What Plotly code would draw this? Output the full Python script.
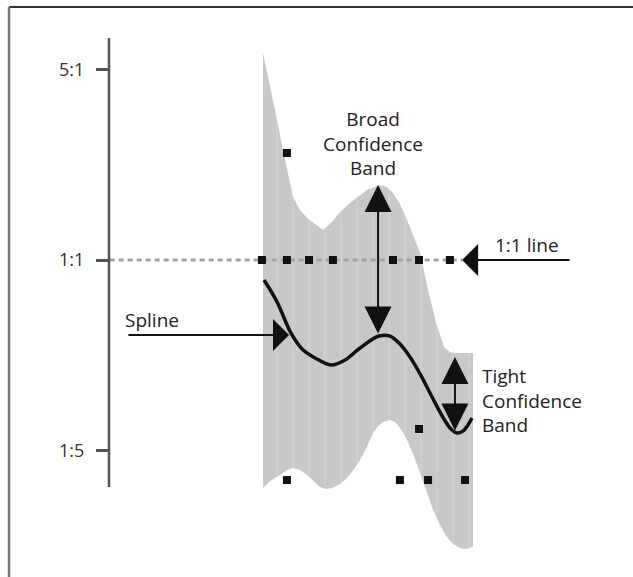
import plotly.graph_objects as go

# Odds ratio on a log-5 scale: 1 -> 5:1, 0 -> 1:1, -1 -> 1:5
tick_vals = [-1, 0, 1]
tick_text = ["1:5", "1:1", "5:1"]

# Upper and lower edges of the confidence band
band_upper_x = [0.00, 0.33, 0.67, 0.95, 1.19, 1.43, 1.76, 2.10, 2.48, 2.86, 3.29, 3.67, 4.14, 4.62,
                4.95, 5.57, 5.90, 6.19, 6.52, 6.86, 7.19, 7.48, 7.86, 8.24, 8.62, 8.90, 9.19, 10.00]
band_upper_y = [1.087, 0.919, 0.735, 0.577, 0.446, 0.331, 0.262, 0.220, 0.189, 0.157, 0.199, 0.252, 0.299, 0.341,
                0.367, 0.394, 0.383, 0.352, 0.294, 0.210, 0.121, 0.037, -0.157, -0.331, -0.457, -0.483, -0.488, -0.488]
band_lower_x = [0.00, 0.33, 0.81, 1.14, 1.43, 1.76, 2.10, 2.43, 2.71, 3.00, 3.29, 3.67, 4.00, 4.38, 4.62, 4.95,
                5.24, 5.48, 5.71, 6.05, 6.29, 6.57, 6.86, 7.19, 7.48, 7.81, 8.10, 8.43, 8.76, 9.05, 9.38, 9.67, 10.00]
band_lower_y = [-1.197, -1.160, -1.129, -1.102, -1.092, -1.102, -1.129, -1.165, -1.192, -1.202, -1.197, -1.176,
                -1.144, -1.092, -1.050, -0.982, -0.908, -0.871, -0.850, -0.840, -0.850, -0.887, -0.945, -1.029,
                -1.118, -1.218, -1.312, -1.391, -1.454, -1.491, -1.512, -1.517, -1.507]

# Fitted spline
spline_x = [0.05, 0.67, 1.33, 1.86, 2.48, 3.24, 3.90, 4.62, 5.52, 6.05, 6.52, 7.00, 7.48, 8.05, 8.62,
            8.95, 9.24, 9.52, 9.76, 9.95]
spline_y = [-0.105, -0.220, -0.383, -0.467, -0.514, -0.551, -0.525, -0.462, -0.399, -0.399, -0.441, -0.509,
            -0.598, -0.719, -0.835, -0.887, -0.908, -0.898, -0.866, -0.829]

# Observed points
obs_x = [-0.05, 1.14, 2.19, 3.33, 6.19, 7.43, 8.90, 1.14, 1.14, 6.52, 7.86, 9.62, 7.43]
obs_y = [0, 0, 0, 0, 0, 0, 0, 0.562, -1.155, -1.155, -1.155, -1.155, -0.887]

# Reference line (1:1)
ref_x = [-7.30, 9.48]
ref_y = [0, 0]

X_RANGE = [-7.333, 17.619]
Y_RANGE = [-1.664, 1.365]
AXIS_SPAN = [1.165, -1.192]

TEXT_FONT = dict(family="Open Sans, Noto Sans, sans-serif", size=19, color="#222222")
INK = "#111111"

fig = go.Figure()

# Confidence band as a closed polygon
fig.add_trace(go.Scatter(
    x=band_upper_x + band_lower_x[::-1],
    y=band_upper_y + band_lower_y[::-1],
    mode="lines", fill="toself",
    fillcolor="#c7c8ca",
    fillpattern=dict(shape="|", bgcolor="#c7c8ca", fgcolor="#d3d4d6", size=16, solidity=0.12),
    line=dict(width=0), hoverinfo="skip", showlegend=False,
))

# 1:1 reference line
fig.add_trace(go.Scatter(
    x=ref_x, y=ref_y, mode="lines",
    line=dict(color="#a3a3a3", width=3, dash="5px,4px"),
    hoverinfo="skip", showlegend=False,
))

# Spline
fig.add_trace(go.Scatter(
    x=spline_x, y=spline_y, mode="lines",
    line=dict(color=INK, width=3.5, shape="spline", smoothing=1),
    hoverinfo="skip", showlegend=False,
))

# Observations
fig.add_trace(go.Scatter(
    x=obs_x, y=obs_y, mode="markers",
    marker=dict(symbol="square", size=8, color=INK),
    hoverinfo="skip", showlegend=False,
))

annotations = []


def arrow(x, y, ax, ay, head, size, both=False):
    a = dict(x=x, y=y, ax=ax, ay=ay, xref="x", yref="y", axref="x", ayref="y",
             text="", showarrow=True, arrowhead=head, arrowsize=size, arrowwidth=2,
             arrowcolor=INK, standoff=0, startstandoff=0)
    if both:
        a.update(arrowside="end+start", startarrowhead=head, startarrowsize=size)
    annotations.append(a)


def label(lines, x, y, anchor):
    annotations.append(dict(x=x, y=y, xref="x", yref="y", text="<br>".join(lines),
                            showarrow=False, xanchor=anchor, yanchor="middle",
                            align=anchor if anchor != "center" else "center",
                            font=TEXT_FONT, borderpad=0))


arrow(5.48, 0.394, 5.48, -0.394, head=2, size=2.7, both=True)
arrow(9.14, -0.509, 9.14, -0.903, head=2, size=2.7, both=True)
arrow(9.48, 0, 14.67, 0, head=1, size=2.67)
arrow(1.24, -0.394, -6.48, -0.394, head=1, size=2.67)

label(["Broad", "Confidence", "Band"], 5.24, 0.614, "center")
label(["Tight", "Confidence", "Band"], 10.38, -0.735, "left")
label(["Spline"], -6.62, -0.315, "left")
label(["1:1 line"], 10.98, 0.079, "left")

shapes = [
    # outer frame: top and left edges
    dict(type="line", xref="paper", yref="paper", x0=-0.1908, x1=1.01, y0=0.9879, y1=0.9879,
         line=dict(color="#333333", width=2)),
    dict(type="line", xref="paper", yref="paper", x0=-0.1908, x1=-0.1908, y0=0.9879, y1=-0.01,
         line=dict(color="#777777", width=2.5)),
    # y axis spine
    dict(type="line", xref="paper", yref="y", x0=0, x1=0, y0=AXIS_SPAN[0], y1=AXIS_SPAN[1],
         line=dict(color="#555555", width=2.5)),
]

fig.update_layout(
    width=633, height=577,
    margin=dict(l=109, r=0, t=0, b=0),
    paper_bgcolor="white", plot_bgcolor="white",
    showlegend=False,
    annotations=annotations,
    shapes=shapes,
    xaxis=dict(range=X_RANGE, visible=False, fixedrange=True),
    yaxis=dict(range=Y_RANGE, tickmode="array", tickvals=tick_vals, ticktext=tick_text,
               ticks="outside", ticklen=12, tickwidth=2.5, tickcolor="#555555",
               ticklabelstandoff=8,
               tickfont=dict(family="Open Sans, Noto Sans, sans-serif", size=18, color="#333333"),
               showgrid=False, zeroline=False, showline=False, fixedrange=True),
)

fig.write_html("out.html")
